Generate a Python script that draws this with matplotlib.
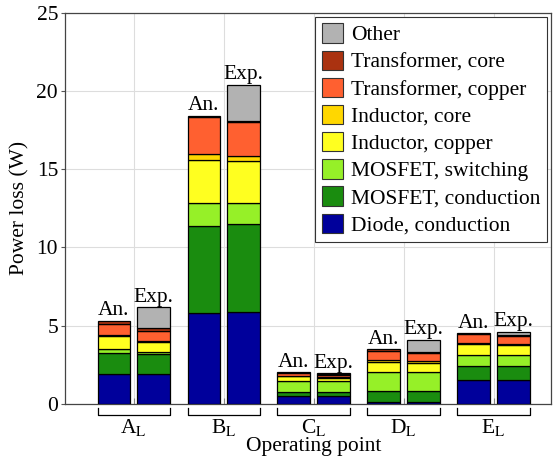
import numpy as np
import matplotlib
matplotlib.use('Agg')
from matplotlib import pyplot as plt
from matplotlib.patches import Patch

plt.rcParams['font.family'] = ['Liberation Serif', 'DejaVu Serif']
plt.rcParams['mathtext.fontset'] = 'stix'

# 数据
points = ['A', 'B', 'C', 'D', 'E']
components = ['Diode, conduction', 'MOSFET, conduction', 'MOSFET, switching',
              'Inductor, copper', 'Inductor, core', 'Transformer, copper',
              'Transformer, core', 'Other']
colors = ['#00009b', '#1a8c0f', '#96f028', '#ffff20', '#ffd700', '#ff6030', '#aa3210', '#b2b2b2']

# 分析值 (An.)，每行一个分量，每列一个工作点
an_diode = [1.92, 5.81, 0.51, 0.16, 1.53]
an_mos_cond = [1.34, 5.58, 0.26, 0.65, 0.90]
an_mos_sw = [0.24, 1.45, 0.73, 1.23, 0.73]
an_ind_cu = [0.85, 2.78, 0.26, 0.67, 0.67]
an_ind_core = [0.05, 0.35, 0.05, 0.11, 0.05]
an_tr_cu = [0.74, 2.39, 0.17, 0.58, 0.59]
an_tr_core = [0.18, 0.03, 0.05, 0.09, 0.05]
an_other = [0, 0, 0, 0, 0]

# 实测值 (Exp.)
exp_diode = [1.92, 5.88, 0.53, 0.16, 1.53]
exp_mos_cond = [1.27, 5.60, 0.22, 0.65, 0.90]
exp_mos_sw = [0.11, 1.38, 0.70, 1.23, 0.73]
exp_ind_cu = [0.69, 2.67, 0.20, 0.58, 0.61]
exp_ind_core = [0.06, 0.30, 0.08, 0.10, 0.05]
exp_tr_cu = [0.60, 2.21, 0.15, 0.51, 0.53]
exp_tr_core = [0.21, 0.05, 0.04, 0.11, 0.09]
exp_other = [1.32, 2.29, 0.04, 0.75, 0.18]

an_data = np.array([an_diode, an_mos_cond, an_mos_sw, an_ind_cu, an_ind_core,
                    an_tr_cu, an_tr_core, an_other])
exp_data = np.array([exp_diode, exp_mos_cond, exp_mos_sw, exp_ind_cu, exp_ind_core,
                     exp_tr_cu, exp_tr_core, exp_other])

fs = 15.5

fig = plt.figure(figsize=(5.59, 4.63), dpi=100)
ax = fig.add_axes([0.1163, 0.1274, 0.8694, 0.8452])

x = np.arange(len(points))
w = 0.36
off = 0.222

for data, sign in [(an_data, -1), (exp_data, 1)]:
    bottom = np.zeros(len(points))
    for i in range(len(components)):
        vals = data[i]
        mask = vals > 0
        if mask.any():
            ax.bar(x[mask] + sign * off, vals[mask], w, bottom=bottom[mask],
                   color=colors[i], edgecolor='black', linewidth=0.9, zorder=3)
        bottom = bottom + vals
    for xi, top in zip(x, bottom):
        ax.annotate('An.' if sign == -1 else 'Exp.', (xi + sign * off, top),
                    xytext=(0, 0.5), textcoords='offset points',
                    ha='center', va='bottom', fontsize=fs)

ax.set_xlim(-0.763, 4.637)
ax.set_ylim(0, 25)
ax.set_yticks([0, 5, 10, 15, 20, 25])
ax.set_xticks(x)
ax.set_xticklabels([''] * len(points))
ax.grid(True, color='#dddddd', linewidth=0.8, zorder=0)
ax.set_axisbelow(True)
ax.tick_params(axis='y', direction='out', length=3, labelsize=fs, color='#555555', pad=2)
ax.tick_params(axis='x', direction='in', length=4, color='#888888')
for s in ax.spines.values():
    s.set_color('#444444')
    s.set_linewidth(0.9)
ax.set_ylabel('Power loss (W)', fontsize=fs, labelpad=5)

# 每个工作点下方的括号
for xi, p in zip(x, points):
    x0 = xi - off - w / 2
    x1 = xi + off + w / 2
    ax.plot([x0, x0, x1, x1], [-0.28, -0.7, -0.7, -0.28], color='black', linewidth=0.9,
            clip_on=False)
    ax.text(xi, -1.5, p + r'$_\mathrm{L}$', ha='center', va='center', fontsize=fs)
ax.text(2, -2.72, 'Operating point', ha='center', va='center', fontsize=fs)

handles = [Patch(facecolor=c, edgecolor='#333333', linewidth=0.8) for c in colors]
leg = ax.legend(handles[::-1], components[::-1], loc='upper right', fontsize=fs,
                handlelength=1.0, handleheight=1.0, labelspacing=0.24, handletextpad=0.35,
                borderaxespad=0.2, borderpad=0.3, fancybox=False, framealpha=1,
                edgecolor='#333333')
leg.get_frame().set_linewidth(0.8)

plt.savefig('out.png', dpi=100)
